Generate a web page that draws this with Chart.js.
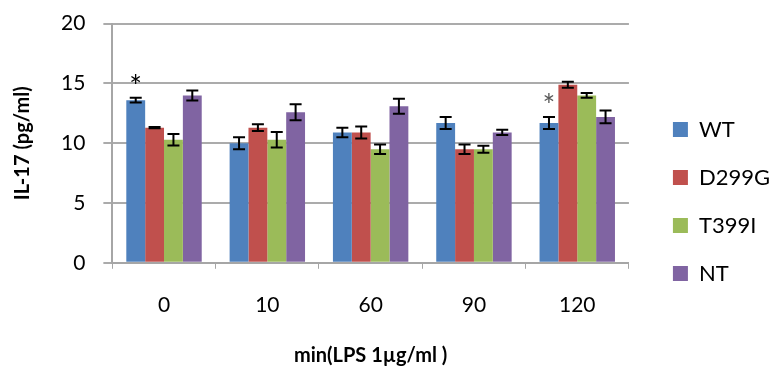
<!DOCTYPE html>
<html>
<head>
<meta charset="utf-8">
<script src="https://cdn.jsdelivr.net/npm/chart.js@4/dist/chart.umd.min.js"></script>
<style>
  html, body { margin: 0; padding: 0; background: #fff; }
  #wrap { width: 771px; height: 370px; }
</style>
</head>
<body>
<div id="wrap"><canvas id="il17Chart" width="771" height="370"></canvas></div>
<script>
// time points (min after LPS 1 µg/ml)
const categories = ['0', '10', '60', '90', '120'];
const seriesNames = ['WT', 'D299G', 'T399I', 'NT'];

// IL-17 (pg/ml) means
const wtValues    = [13.6, 10.0, 10.9, 11.7, 11.7];
const d299gValues = [11.3, 11.3, 10.9,  9.5, 14.9];
const t399iValues = [10.3, 10.3,  9.5,  9.5, 14.0];
const ntValues    = [14.0, 12.6, 13.1, 10.9, 12.2];

// error bar half-heights
const wtErrors    = [0.20, 0.50, 0.40, 0.50, 0.50];
const d299gErrors = [0.05, 0.28, 0.50, 0.40, 0.25];
const t399iErrors = [0.48, 0.65, 0.40, 0.30, 0.20];
const ntErrors    = [0.42, 0.67, 0.63, 0.22, 0.53];

// significance marks: [category index, series index]
const starMarks = [[0, 0], [4, 0]];

const yTicks = [0, 5, 10, 15, 20];

const FONT = 'Lato, "Open Sans", sans-serif';
const colors = ['#4F81BD', '#C0504D', '#9BBB59', '#8064A2'];
const allValues = [wtValues, d299gValues, t399iValues, ntValues];
const allErrors = [wtErrors, d299gErrors, t399iErrors, ntErrors];

// draws the error bars and asterisks on top of the bars
const errorBarPlugin = {
    id: 'errorBars',
    afterDatasetsDraw(chart) {
        const ctx = chart.ctx;
        const y = chart.scales.y;
        ctx.save();
        ctx.strokeStyle = '#000';
        ctx.lineWidth = 2;
        chart.data.datasets.forEach((ds, i) => {
            const meta = chart.getDatasetMeta(i);
            meta.data.forEach((bar, j) => {
                const v = ds.data[j];
                const e = ds.errors[j];
                const top = y.getPixelForValue(v + e);
                const bot = y.getPixelForValue(v - e);
                const half = 6;
                ctx.beginPath();
                ctx.moveTo(bar.x, top);
                ctx.lineTo(bar.x, bot);
                ctx.moveTo(bar.x - half, top);
                ctx.lineTo(bar.x + half, top);
                ctx.moveTo(bar.x - half, bot);
                ctx.lineTo(bar.x + half, bot);
                ctx.stroke();
            });
        });

        ctx.font = '30px ' + FONT;
        ctx.textAlign = 'center';
        ctx.textBaseline = 'alphabetic';
        starMarks.forEach(([cat, s], k) => {
            const bar = chart.getDatasetMeta(s).data[cat];
            const ds = chart.data.datasets[s];
            const top = y.getPixelForValue(ds.data[cat] + ds.errors[cat]);
            ctx.fillStyle = k === 0 ? '#000' : '#595959';
            ctx.fillText('*', bar.x, top - 1);
        });
        ctx.restore();
    }
};

// nudges the legend further from the plot, like the original sheet
const legendShift = {
    id: 'legendShift',
    afterLayout(chart) {
        const lg = chart.legend;
        lg.left += 18;
        lg.right += 18;
        lg.top += 13;
        lg.bottom += 13;
    }
};

new Chart(document.getElementById('il17Chart').getContext('2d'), {
    type: 'bar',
    data: {
        labels: categories,
        datasets: seriesNames.map((name, i) => ({
            label: name,
            data: allValues[i],
            errors: allErrors[i],
            backgroundColor: colors[i],
            borderWidth: 0,
            categoryPercentage: 0.73,
            barPercentage: 1.0
        }))
    },
    options: {
        responsive: false,
        animation: false,
        layout: {
            padding: { left: 11, right: 9, top: 9, bottom: 2 }
        },
        plugins: {
            legend: {
                position: 'right',
                labels: {
                    boxWidth: 15,
                    boxHeight: 15,
                    padding: 26,
                    color: '#000',
                    font: { family: FONT, size: 22 }
                }
            },
            tooltip: { enabled: false }
        },
        scales: {
            x: {
                grid: {
                    display: true,
                    drawOnChartArea: false,
                    drawTicks: true,
                    tickLength: 6,
                    color: '#a6a6a6',
                    offset: true
                },
                border: { color: '#a6a6a6', width: 2 },
                ticks: {
                    color: '#000',
                    padding: 24,
                    font: { family: FONT, size: 21 }
                },
                title: {
                    display: true,
                    text: 'min(LPS 1µg/ml )',
                    color: '#000',
                    padding: { top: 2, bottom: 0 },
                    font: { family: FONT, size: 20, weight: 'bold' }
                }
            },
            y: {
                min: 0,
                max: 20,
                afterBuildTicks: axis => {
                    axis.ticks = yTicks.map(v => ({ value: v }));
                },
                grid: {
                    color: '#ababab',
                    lineWidth: 2,
                    tickLength: 9
                },
                border: { color: '#a6a6a6', width: 2 },
                ticks: {
                    color: '#000',
                    padding: 18,
                    // small line height keeps the top label from pushing the plot down
                    font: { family: FONT, size: 21, lineHeight: 0.54 }
                },
                title: {
                    display: true,
                    text: 'IL-17 (pg/ml)',
                    color: '#000',
                    padding: { top: 0, bottom: 8 },
                    font: { family: FONT, size: 20, weight: 'bold' }
                }
            }
        }
    },
    plugins: [errorBarPlugin, legendShift]
});
</script>
</body>
</html>
